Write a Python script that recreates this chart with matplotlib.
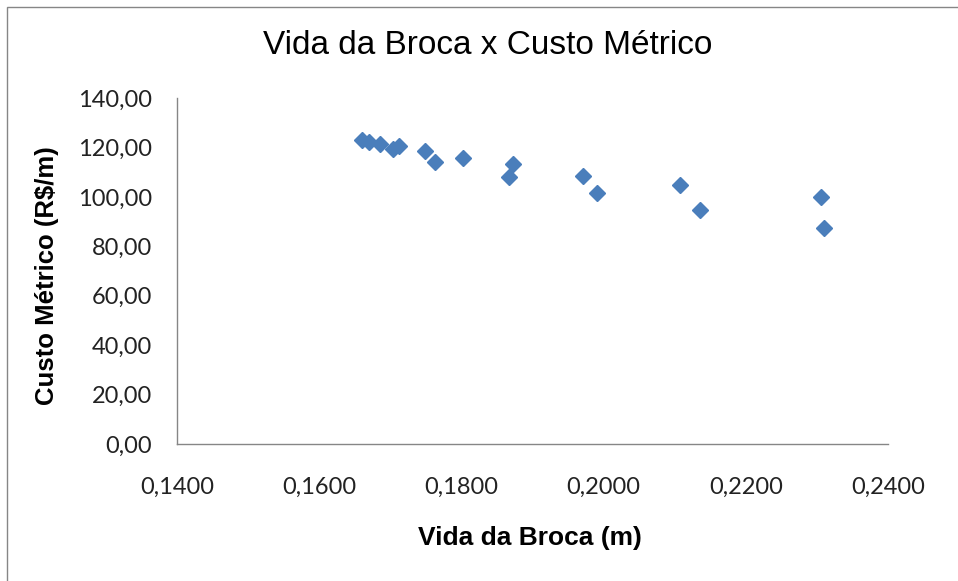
import matplotlib
matplotlib.use('Agg')
from matplotlib import pyplot as plt
from matplotlib.patches import Rectangle
from matplotlib.ticker import FuncFormatter

# Dados
vida_broca = [0.1660, 0.1670, 0.1686, 0.1704, 0.1712, 0.1749, 0.1763, 0.1802,
              0.1867, 0.1873, 0.1971, 0.1991, 0.2107, 0.2136, 0.2306, 0.2310]
custo_metrico = [123.0, 122.2, 121.4, 119.4, 120.6, 118.4, 114.1, 115.9,
                 108.0, 113.3, 108.6, 101.4, 104.6, 94.7, 99.9, 87.4]

x_ticks = [0.14, 0.16, 0.18, 0.20, 0.22, 0.24]
y_ticks = [0, 20, 40, 60, 80, 100, 120, 140]

plt.rcParams['font.family'] = ['Lato', 'DejaVu Sans']

fig = plt.figure(figsize=(9.58, 5.81), dpi=100)
ax = fig.add_axes([177 / 958, 1 - 444 / 581, 711 / 958, 346 / 581])

ax.plot(vida_broca, custo_metrico, linestyle='None', marker='D', markersize=8.5,
        color='#4A7EBB', markeredgecolor='#4A7EBB')

ax.set_xlim(0.14, 0.24)
ax.set_ylim(0, 140)
ax.set_xticks(x_ticks)
ax.set_yticks(y_ticks)
ax.xaxis.set_major_formatter(FuncFormatter(lambda v, p: f'{v:.4f}'.replace('.', ',')))
ax.yaxis.set_major_formatter(FuncFormatter(lambda v, p: f'{v:.2f}'.replace('.', ',')))
ax.tick_params(axis='x', length=0, pad=24, labelsize=17, labelcolor='#222222')
ax.tick_params(axis='y', length=0, pad=18, labelsize=17, labelcolor='#222222')

for s in ['top', 'right']:
    ax.spines[s].set_visible(False)
for s in ['left', 'bottom']:
    ax.spines[s].set_color('#868686')
    ax.spines[s].set_linewidth(1.0)

fig.text(488 / 958, 1 - 46 / 581, 'Vida da Broca x Custo Métrico', ha='center', va='center',
         fontsize=24, color='black', family='Liberation Sans')
fig.text(530 / 958, 1 - 538 / 581, 'Vida da Broca (m)', ha='center', va='center',
         fontsize=19, fontweight='bold', family='Liberation Sans')
fig.text(47 / 958, 1 - 276 / 581, 'Custo Métrico (R$/m)', ha='center', va='center',
         fontsize=18.5, fontweight='bold', rotation=90, family='Liberation Sans')

# borda da área do gráfico
fig.patches.append(Rectangle((7 / 958, -0.1), 1.1, 1 - 7 / 581 + 0.1, transform=fig.transFigure,
                             fill=False, edgecolor='#868686', linewidth=1.0))

fig.savefig('out.png', dpi=100)
